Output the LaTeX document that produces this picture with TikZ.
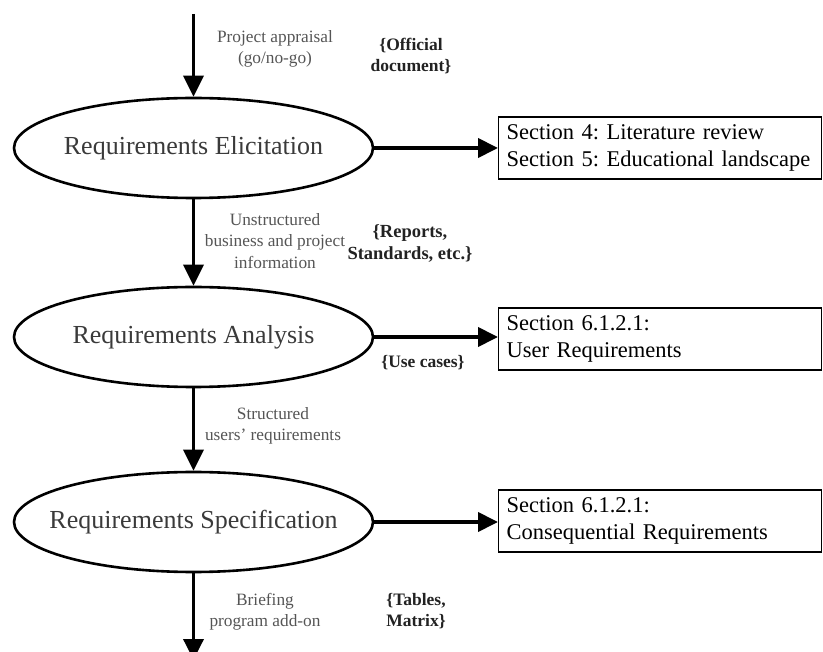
\documentclass[tikz,border=0pt]{standalone}
\usepackage{fontspec}
\setmainfont{Liberation Serif}
\usetikzlibrary{arrows.meta,shapes.geometric}
\definecolor{phasetext}{HTML}{3A3A3A}
\definecolor{flowtext}{HTML}{555555}
\definecolor{docttext}{HTML}{222222}
\newcommand{\phasename}[1]{\makebox[0pt][c]{#1}}
\frenchspacing
\hyphenpenalty=10000
\begin{document}
\begin{tikzpicture}[x=1pt,y=-1pt,
  phase/.style={draw, ellipse, line width=2.6pt, minimum width=359pt,
    minimum height=100pt, inner sep=0pt, text=phasetext,
    font=\fontsize{26}{30}\selectfont},
  secbox/.style={draw, rectangle, line width=1.4pt, anchor=west,
    minimum height=62pt, inner xsep=8pt, inner ysep=0pt,
    text width=307pt, align=left,
    font=\fontsize{22.5}{26.5}\selectfont},
  flowlabel/.style={align=center, text=flowtext, inner sep=0pt,
    font=\fontsize{17.3}{21.5}\selectfont},
  doclabel/.style={align=center, text=docttext, inner sep=0pt,
    font=\fontsize{17.5}{21.5}\selectfont\bfseries},
  flow/.style={line width=3.6pt, -{Triangle[length=21pt,width=20pt]}},
  side/.style={line width=4pt, -{Triangle[length=20pt,width=19pt]}}]

\clip (0,0) rectangle (823,652);

% process phases
\node[phase] (elic) at (193.5,148) {\phasename{Requirements Elicitation}};
\node[phase] (anal) at (193.5,337) {\phasename{Requirements Analysis}};
\node[phase] (spec) at (193.5,522) {\phasename{Requirements Specification}};

% document sections
\node[secbox] (s1) at (498,148) {Section 4: Literature review\\Section 5: Educational landscape};
\node[secbox] (s2) at (498,339) {Section 6.1.2.1:\\User Requirements};
\node[secbox] (s3) at (498,521) {Section 6.1.2.1:\\Consequential Requirements};

% flow labels and deliverables
\node[flowlabel] (l1) at (275,49) {Project appraisal\\(go/no-go)};
\node[doclabel] (d1) at (411,56) {\{Official\\document\}};
\node[flowlabel] (l2) at (275,241) {Unstructured\\business and project\\information};
\node[doclabel, font=\fontsize{18.5}{22}\selectfont\bfseries] (d2) at (410,244) {\{Reports,\\Standards, etc.\}};
\node[doclabel] (d3) at (423,363) {\{Use cases\}};
\node[flowlabel] (l3) at (273,426) {Structured\\users' requirements};
\node[flowlabel] (l4) at (265,612) {Briefing\\program add-on};
\node[doclabel] (d4) at (416,611) {\{Tables,\\Matrix\}};

% open ends of the main flow
\coordinate (start) at (193.5,14);
\coordinate (finish) at (193.5,660);

% main flow
\draw[flow] (start) -- (elic.north);
\draw[flow] (elic.south) -- (anal.north);
\draw[flow] (anal.south) -- (spec.north);
\draw[flow] (spec.south) -- (finish);

% links to document sections
\draw[side] (elic.east) -- (elic.east -| s1.west);
\draw[side] (anal.east) -- (anal.east -| s2.west);
\draw[side] (spec.east) -- (spec.east -| s3.west);
\end{tikzpicture}
\end{document}
